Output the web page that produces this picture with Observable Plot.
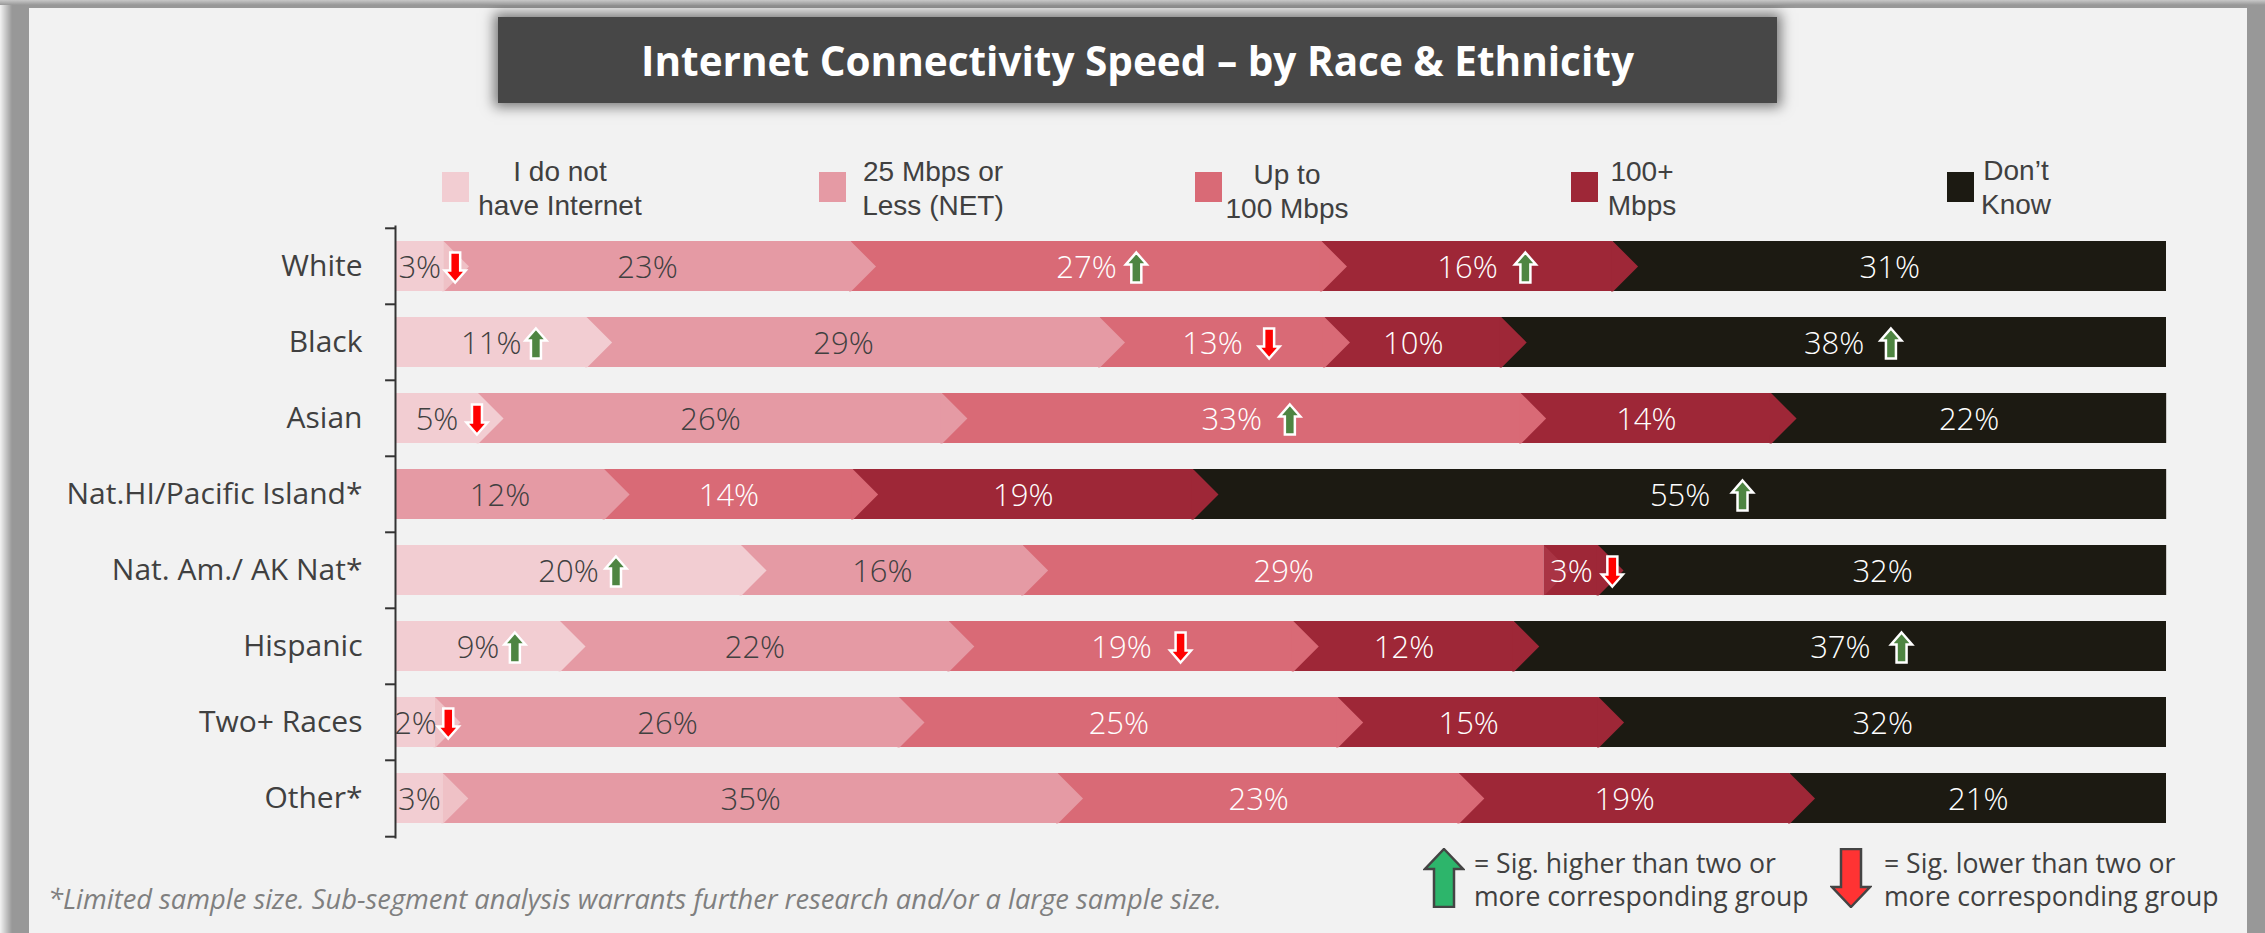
<!DOCTYPE html>
<html><head><meta charset="utf-8">
<script src="https://cdn.jsdelivr.net/npm/d3@7"></script>
<script src="https://cdn.jsdelivr.net/npm/@observablehq/plot@0.6"></script>
<style>
html,body{margin:0;padding:0;background:#989898;}
#page{position:relative;width:2265px;height:933px;overflow:hidden;background:#989898;}
#page:before{content:"";position:absolute;left:0;top:0;bottom:0;width:12px;background:linear-gradient(to right,#f2f2f2,#989898);}
#page:after{content:"";position:absolute;left:0;right:0;top:0;height:5px;background:linear-gradient(to bottom,#c8c8c8,#989898);mix-blend-mode:normal;pointer-events:none;}
#panel{position:absolute;left:29px;top:8px;width:2218px;height:940px;background:#f2f2f2;}
#title{position:absolute;left:498px;top:17px;width:1279px;height:86px;background:#474747;box-shadow:0 0 12px 4px rgba(0,0,0,.5);color:#fff;font:700 40.5px "Open Sans",sans-serif;display:flex;align-items:center;justify-content:center;white-space:nowrap;}
#chart{position:absolute;left:0;top:0;}
.swatch{position:absolute;top:172px;height:30px;}
.lg{position:absolute;transform:translateX(-50%);text-align:center;font:28px/34px "Liberation Sans",Arial,sans-serif;color:#404040;white-space:nowrap;}
.key{position:absolute;font:26.6px/33px "Open Sans",sans-serif;color:#404040;white-space:nowrap;}
#note{position:absolute;left:48px;top:879px;font:italic 27.3px/40px "Open Sans",sans-serif;color:#7f7f7f;white-space:nowrap;}
.big{position:absolute;top:848px;}
</style></head>
<body><div id="page"><div id="panel"></div><div id="chart"></div></div>
<script>
const titleText = "Internet Connectivity Speed – by Race & Ethnicity";
const categories = ["White","Black","Asian","Nat.HI/Pacific Island*","Nat. Am./ AK Nat*","Hispanic","Two+ Races","Other*"];
const seriesNames = ["I do not have Internet","25 Mbps or Less (NET)","Up to 100 Mbps","100+ Mbps","Don’t Know"];
const seriesColors = ["#F2CDD2","#E59AA4","#D96A76","#9E2737","#1C1A12"];
const noInternet = [2.74,10.82,4.69,0,19.54,9.32,2.26,2.70];
const under25    = [22.98,28.96,26.19,11.81,15.90,21.95,26.20,34.71];
const upTo100    = [26.59,12.70,32.68,14.03,29.42,19.45,24.77,22.66];
const over100    = [16.44,9.98,14.14,19.22,3.07,12.45,14.73,18.67];
const dontKnow   = [31.25,37.54,22.31,54.95,32.08,36.83,32.04,21.26];
// significance arrows: category and the position on the percent axis where each sits
const higherCats = ["White","White","Black","Black","Asian","Nat.HI/Pacific Island*","Nat. Am./ AK Nat*","Hispanic","Hispanic"];
const higherAt   = [41.83,63.8,7.93,84.44,50.5,76.06,12.45,6.74,85.04];
const lowerCats  = ["White","Black","Asian","Nat. Am./ AK Nat*","Hispanic","Two+ Races"];
const lowerAt    = [3.37,49.33,4.6,68.71,44.33,2.98];

const seriesValues = [noInternet,under25,upTo100,over100,dontKnow];
const rows = [];
categories.forEach((cat,i)=>seriesNames.forEach((series,s)=>{
  rows.push({cat,series,value:seriesValues[s][i]});
}));
const shown = rows.filter(d=>d.value>0);
const stackOpts = {x:"value",y:"cat"};
const tipH = 25, tipW = 25;
const chevron = {draw(c){c.moveTo(-2,-tipH);c.lineTo(0,-tipH);c.lineTo(tipW,0);c.lineTo(0,tipH);c.lineTo(-2,tipH);c.closePath();}};
const arrowUp = {draw(c){c.moveTo(0,-15);c.lineTo(10.5,-3);c.lineTo(5,-3);c.lineTo(5,15);c.lineTo(-5,15);c.lineTo(-5,-3);c.lineTo(-10.5,-3);c.closePath();}};
const arrowDown = {draw(c){c.moveTo(0,15);c.lineTo(10.5,3);c.lineTo(5,3);c.lineTo(5,-15);c.lineTo(-5,-15);c.lineTo(-5,3);c.lineTo(-10.5,3);c.closePath();}};
const darkText = new Set(seriesNames.slice(0,2));
const pct = d=>Math.round(d.value)+"%";
// the chevron of a very thin segment shows only faintly through its neighbour
const tipOpacity = d=>d.cat==="Nat. Am./ AK Nat*"&&d.series===seriesNames[2]?0.2:(d.value<3&&d.series===seriesNames[0]?0.75:1);

const plot = Plot.plot({
  width:2265,height:933,
  marginLeft:395,marginRight:99,marginTop:226,marginBottom:96,
  style:{background:"transparent",fontFamily:"'Open Sans',sans-serif",color:"#404040",overflow:"visible"},
  x:{domain:[0,100],axis:null},
  y:{domain:categories,paddingInner:0.345,paddingOuter:0.1725,align:0.5,label:null},
  color:{domain:seriesNames,range:seriesColors},
  marks:[
    Plot.barX(shown,Plot.stackX({...stackOpts,fill:"series"})),
    Plot.dot(shown,Plot.filter(d=>d.series!==seriesNames[4],Plot.stackX2({...stackOpts,fill:"series",fillOpacity:tipOpacity,symbol:chevron}))),
    Plot.frame({anchor:"left",stroke:"#333",strokeWidth:2}),
    Plot.ruleY(categories,{y:d=>d,x1:-0.56,x2:0,dy:-38.2,stroke:"#333",strokeWidth:2}),
    Plot.ruleY(categories.slice(-1),{y:d=>d,x1:-0.56,x2:0,dy:38.2,stroke:"#333",strokeWidth:2}),
    Plot.axisY({anchor:"left",tickSize:0,tickPadding:33,fontSize:30,label:null,fill:"#404040"}),
    Plot.text(shown,Plot.filter(d=>darkText.has(d.series),Plot.stackX({...stackOpts,text:pct,fill:"#404040",fontSize:31,fontWeight:300,dy:2}))),
    Plot.text(shown,Plot.filter(d=>!darkText.has(d.series),Plot.stackX({...stackOpts,text:pct,fill:"#fff",fontSize:31,fontWeight:300,dy:2}))),
    Plot.dot(higherCats.map((cat,i)=>({cat,at:higherAt[i]})),{x:"at",y:"cat",symbol:arrowUp,fill:"#4E8542",stroke:"#fff",strokeWidth:2.5,dy:1}),
    Plot.dot(lowerCats.map((cat,i)=>({cat,at:lowerAt[i]})),{x:"at",y:"cat",symbol:arrowDown,fill:"#FF0000",stroke:"#fff",strokeWidth:2.5,dy:1})
  ]
});
document.getElementById("chart").append(plot);

const page = document.getElementById("page");
function add(cls,html,css){const e=document.createElement("div");e.className=cls;e.innerHTML=html;Object.assign(e.style,css||{});page.append(e);return e;}
add("","",{}).id="title";
document.getElementById("title").textContent=titleText;
const swatchX=[442,819,1195,1571,1947];
seriesColors.forEach((c,i)=>add("swatch","",{left:swatchX[i]+"px",width:"27px",background:c}));
const legendLines=[["I do not","have Internet"],["25 Mbps or","Less (NET)"],["Up to","100 Mbps"],["100+","Mbps"],["Don’t","Know"]];
const legendCx=[560,933,1287,1642,2016], legendTop=[155,155,158,155,154];
legendLines.forEach((l,i)=>add("lg",l.join("<br>"),{left:legendCx[i]+"px",top:legendTop[i]+"px"}));
add("","*Limited sample size. Sub-segment analysis warrants further research and/or a large sample size.",{}).id="note";
add("key","= Sig. higher than two or<br>more corresponding group",{left:"1474px",top:"847px"});
add("key","= Sig. lower than two or<br>more corresponding group",{left:"1884px",top:"847px"});
add("big",'<svg width="42" height="60" viewBox="0 0 42 60"><path d="M21 1L40 21H31V59H11V21H2Z" fill="#2DB56B" stroke="#444" stroke-width="2.5"/></svg>',{left:"1423px"});
add("big",'<svg width="42" height="60" viewBox="0 0 42 60"><path d="M21 59L40 39H31V1H11V39H2Z" fill="#FF3333" stroke="#444" stroke-width="2.5"/></svg>',{left:"1830px"});
</script></body></html>
